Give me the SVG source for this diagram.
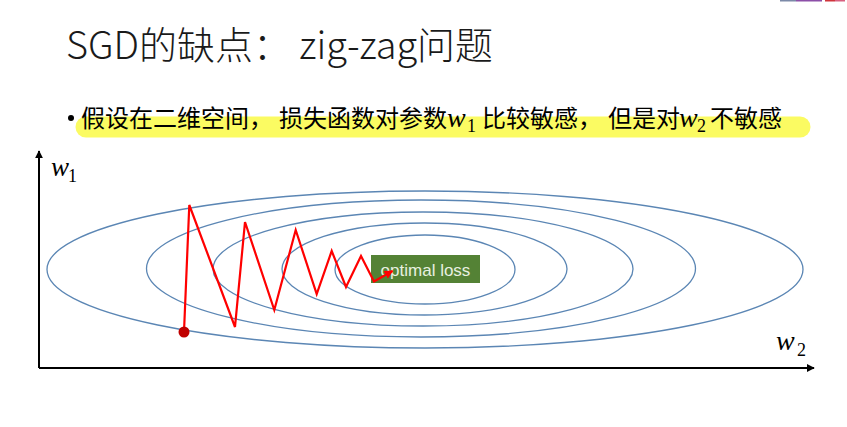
<svg xmlns="http://www.w3.org/2000/svg" width="847" height="427" viewBox="0 0 847 427">
<defs>
<style>
.cjk{font-family:"Noto Sans CJK SC","Noto Sans",sans-serif;fill:#000}
.title{font-size:38px;font-weight:300;fill:#1a1a1a}
.body{font-size:24px}
.math{font-family:"Liberation Serif","DejaVu Serif",serif;font-style:italic;fill:#000}
.sub{font-family:"Liberation Serif","DejaVu Serif",serif;font-style:normal;fill:#000;font-size:18px}
.contour{fill:none;stroke:#5b86b4;stroke-width:1.3}
.axis{stroke:#000;stroke-width:2;fill:none}
.zig{fill:none;stroke:#ff0000;stroke-width:2.2;stroke-linejoin:miter}
</style>
<marker id="ah" viewBox="0 0 10 10" refX="9" refY="5" markerWidth="4" markerHeight="4" orient="auto"><path d="M0,0 L10,5 L0,10 z" fill="#000"/></marker>
<marker id="rh" viewBox="0 0 10 10" refX="9" refY="5" markerWidth="4" markerHeight="4" orient="auto"><path d="M0,0 L10,5 L0,10 z" fill="#ff0000"/></marker>
</defs>
<rect width="847" height="427" fill="#fff"/>
<g id="topbar">
<rect x="780" y="0" width="16" height="1.5" fill="#7c8aa8"/>
<rect x="796" y="0" width="26" height="1.5" fill="#8c4fa8"/>
<rect x="825" y="0" width="10" height="1.5" fill="#d0343c"/>
<rect x="835" y="0" width="10" height="1.5" fill="#d86080"/>
</g>
<g id="title">
<text class="cjk title" x="66" y="59" textLength="427" lengthAdjust="spacingAndGlyphs">SGD的缺点： zig-zag问题</text>
</g>
<g id="bullet">
<path d="M86,127 L800,127" stroke="#fbfb62" stroke-width="21" stroke-linecap="round" fill="none"/>
<circle cx="71" cy="118" r="3" fill="#000"/>
<text class="cjk body" x="81" y="127">假设在二维空间，</text>
<text class="cjk body" x="279" y="127">损失函数对参数</text>
<text class="math" x="447" y="127" font-size="28">w</text>
<text class="sub" x="467" y="132">1</text>
<text class="cjk body" x="482" y="127">比较敏感，</text>
<text class="cjk body" x="608" y="127">但是对</text>
<text class="math" x="679" y="127" font-size="28">w</text>
<text class="sub" x="697" y="132">2</text>
<text class="cjk body" x="710" y="127">不敏感</text>
</g>
<g id="contours">
<ellipse class="contour" cx="425" cy="269.5" rx="378" ry="78.5"/>
<ellipse class="contour" cx="421" cy="268.5" rx="274.5" ry="68.5"/>
<ellipse class="contour" cx="423" cy="269" rx="210" ry="57"/>
<ellipse class="contour" cx="424.5" cy="269" rx="142.5" ry="46"/>
<ellipse class="contour" cx="425" cy="269.5" rx="90" ry="34.5"/>
</g>
<g id="axes">
<path class="axis" d="M39,368 L39,151" marker-end="url(#ah)"/>
<path class="axis" d="M39,368 L814,368" marker-end="url(#ah)"/>
<text class="math" x="51" y="176" font-size="27">w</text>
<text class="sub" x="68" y="182">1</text>
<text class="math" x="776" y="350" font-size="28">w</text>
<text class="sub" x="797" y="356">2</text>
</g>
<g id="optimal">
<rect x="371" y="255" width="109" height="28" fill="#548235"/>
<text x="425.5" y="276" text-anchor="middle" font-family="Liberation Sans, Arial, sans-serif" font-size="17" fill="#e8f0e0">optimal loss</text>
</g>
<g id="connectors">
<polyline class="zig" points="184,332 189.3,205 235,327 245,222 274.3,310 295.7,230 316.7,294 331.7,251 346,287 361,256 374,281.5 392.5,271" marker-end="url(#rh)"/>
</g>
<g id="start">
<circle cx="184" cy="332" r="5.5" fill="#c00000"/>
</g>
</svg>
